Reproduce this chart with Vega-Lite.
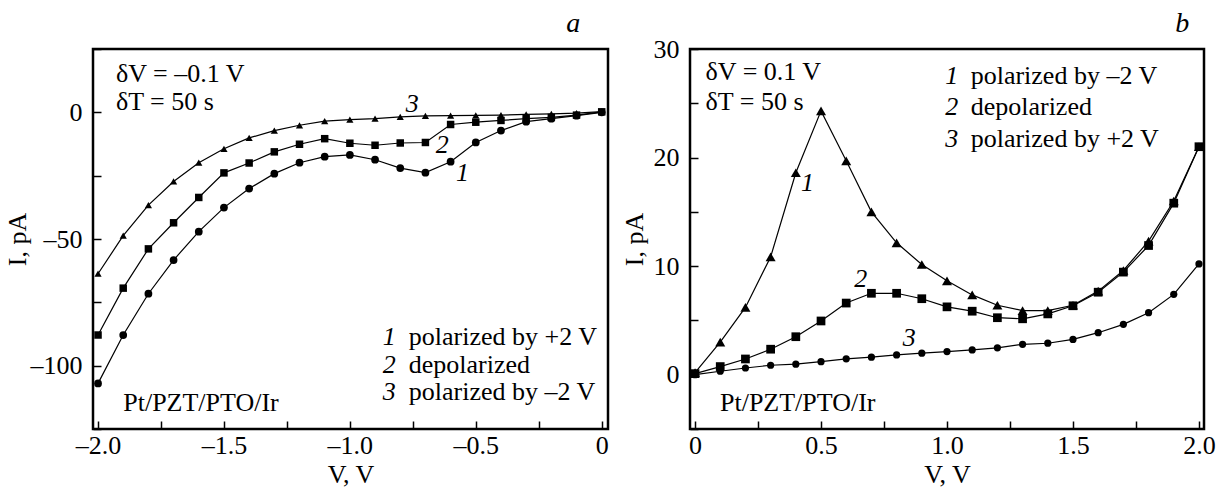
{
  "$schema": "https://vega.github.io/schema/vega-lite/v6.json",
  "padding": {"left": 2, "top": 8, "right": 5, "bottom": 0},
  "background": "white",
  "spacing": 9,
  "config": {
    "font": "Liberation Serif",
    "view": {"stroke": "black", "strokeWidth": 2.5},
    "axis": {
      "grid": false,
      "domain": false,
      "ticks": true,
      "tickColor": "black",
      "tickWidth": 1.5,
      "tickSize": 8,
      "offset": -8,
      "labelFont": "Liberation Serif",
      "labelFontSize": 26,
      "labelColor": "black",
      "labelOverlap": false,
      "labelFlush": false,
      "titleFont": "Liberation Serif",
      "titleFontSize": 26,
      "titleFontWeight": "normal",
      "titleColor": "black"
    },
    "axisX": {"labelPadding": 3, "titlePadding": 3},
    "axisY": {"labelPadding": 11, "titlePadding": 6},
    "title": {"font": "Liberation Serif", "fontSize": 28, "fontStyle": "italic", "fontWeight": "normal", "anchor": "end", "color": "black", "offset": -2},
    "text": {"font": "Liberation Serif", "fontSize": 26, "color": "black"}
  },
  "datasets": {
    "a": [
      {"V": -2.0, "I": -107, "curve": "1"}, {"V": -1.9, "I": -87.9, "curve": "1"}, {"V": -1.8, "I": -71.6, "curve": "1"}, {"V": -1.7, "I": -58.3, "curve": "1"}, {"V": -1.6, "I": -47.1, "curve": "1"}, {"V": -1.5, "I": -37.6, "curve": "1"}, {"V": -1.4, "I": -30.1, "curve": "1"}, {"V": -1.3, "I": -24.2, "curve": "1"}, {"V": -1.2, "I": -19.9, "curve": "1"}, {"V": -1.1, "I": -17.5, "curve": "1"}, {"V": -1.0, "I": -16.8, "curve": "1"}, {"V": -0.9, "I": -18.7, "curve": "1"}, {"V": -0.8, "I": -22.0, "curve": "1"}, {"V": -0.7, "I": -23.8, "curve": "1"}, {"V": -0.6, "I": -19.5, "curve": "1"}, {"V": -0.5, "I": -11.9, "curve": "1"}, {"V": -0.4, "I": -7.2, "curve": "1"}, {"V": -0.3, "I": -3.7, "curve": "1"}, {"V": -0.2, "I": -2.5, "curve": "1"}, {"V": -0.1, "I": -1.3, "curve": "1"}, {"V": 0.0, "I": 0.0, "curve": "1"},
      {"V": -2.0, "I": -87.9, "curve": "2"}, {"V": -1.9, "I": -69.4, "curve": "2"}, {"V": -1.8, "I": -53.9, "curve": "2"}, {"V": -1.7, "I": -43.6, "curve": "2"}, {"V": -1.6, "I": -33.6, "curve": "2"}, {"V": -1.5, "I": -23.9, "curve": "2"}, {"V": -1.4, "I": -20.0, "curve": "2"}, {"V": -1.3, "I": -15.6, "curve": "2"}, {"V": -1.2, "I": -12.6, "curve": "2"}, {"V": -1.1, "I": -10.4, "curve": "2"}, {"V": -1.0, "I": -12.2, "curve": "2"}, {"V": -0.9, "I": -13.0, "curve": "2"}, {"V": -0.8, "I": -12.1, "curve": "2"}, {"V": -0.7, "I": -11.9, "curve": "2"}, {"V": -0.6, "I": -4.8, "curve": "2"}, {"V": -0.5, "I": -3.9, "curve": "2"}, {"V": -0.4, "I": -3.2, "curve": "2"}, {"V": -0.3, "I": -2.5, "curve": "2"}, {"V": -0.2, "I": -2.0, "curve": "2"}, {"V": -0.1, "I": -1.1, "curve": "2"}, {"V": 0.0, "I": 0.2, "curve": "2"},
      {"V": -2.0, "I": -63.7, "curve": "3"}, {"V": -1.9, "I": -48.7, "curve": "3"}, {"V": -1.8, "I": -36.6, "curve": "3"}, {"V": -1.7, "I": -27.3, "curve": "3"}, {"V": -1.6, "I": -19.9, "curve": "3"}, {"V": -1.5, "I": -14.4, "curve": "3"}, {"V": -1.4, "I": -10.1, "curve": "3"}, {"V": -1.3, "I": -7.2, "curve": "3"}, {"V": -1.2, "I": -5.1, "curve": "3"}, {"V": -1.1, "I": -3.5, "curve": "3"}, {"V": -1.0, "I": -2.9, "curve": "3"}, {"V": -0.9, "I": -2.5, "curve": "3"}, {"V": -0.8, "I": -1.8, "curve": "3"}, {"V": -0.7, "I": -1.4, "curve": "3"}, {"V": -0.6, "I": -1.3, "curve": "3"}, {"V": -0.5, "I": -1.2, "curve": "3"}, {"V": -0.4, "I": -1.1, "curve": "3"}, {"V": -0.3, "I": -0.8, "curve": "3"}, {"V": -0.2, "I": -0.6, "curve": "3"}, {"V": -0.1, "I": -0.3, "curve": "3"}, {"V": 0.0, "I": 0.3, "curve": "3"}
    ],
    "b": [
      {"V": 0.0, "I": 0.2, "curve": "1"}, {"V": 0.1, "I": 3.0, "curve": "1"}, {"V": 0.2, "I": 6.2, "curve": "1"}, {"V": 0.3, "I": 10.85, "curve": "1"}, {"V": 0.4, "I": 18.6, "curve": "1"}, {"V": 0.5, "I": 24.3, "curve": "1"}, {"V": 0.6, "I": 19.7, "curve": "1"}, {"V": 0.7, "I": 15.0, "curve": "1"}, {"V": 0.8, "I": 12.15, "curve": "1"}, {"V": 0.9, "I": 10.15, "curve": "1"}, {"V": 1.0, "I": 8.65, "curve": "1"}, {"V": 1.1, "I": 7.35, "curve": "1"}, {"V": 1.2, "I": 6.4, "curve": "1"}, {"V": 1.3, "I": 5.9, "curve": "1"}, {"V": 1.4, "I": 5.9, "curve": "1"}, {"V": 1.5, "I": 6.4, "curve": "1"}, {"V": 1.6, "I": 7.7, "curve": "1"}, {"V": 1.7, "I": 9.6, "curve": "1"}, {"V": 1.8, "I": 12.3, "curve": "1"}, {"V": 1.9, "I": 16.0, "curve": "1"}, {"V": 2.0, "I": 21.0, "curve": "1"},
      {"V": 0.0, "I": 0.1, "curve": "2"}, {"V": 0.1, "I": 0.75, "curve": "2"}, {"V": 0.2, "I": 1.45, "curve": "2"}, {"V": 0.3, "I": 2.35, "curve": "2"}, {"V": 0.4, "I": 3.5, "curve": "2"}, {"V": 0.5, "I": 4.95, "curve": "2"}, {"V": 0.6, "I": 6.6, "curve": "2"}, {"V": 0.7, "I": 7.5, "curve": "2"}, {"V": 0.8, "I": 7.5, "curve": "2"}, {"V": 0.9, "I": 7.0, "curve": "2"}, {"V": 1.0, "I": 6.25, "curve": "2"}, {"V": 1.1, "I": 5.85, "curve": "2"}, {"V": 1.2, "I": 5.25, "curve": "2"}, {"V": 1.3, "I": 5.15, "curve": "2"}, {"V": 1.4, "I": 5.6, "curve": "2"}, {"V": 1.5, "I": 6.35, "curve": "2"}, {"V": 1.6, "I": 7.6, "curve": "2"}, {"V": 1.7, "I": 9.45, "curve": "2"}, {"V": 1.8, "I": 11.9, "curve": "2"}, {"V": 1.9, "I": 15.8, "curve": "2"}, {"V": 2.0, "I": 21.0, "curve": "2"},
      {"V": 0.0, "I": 0.0, "curve": "3"}, {"V": 0.1, "I": 0.32, "curve": "3"}, {"V": 0.2, "I": 0.62, "curve": "3"}, {"V": 0.3, "I": 0.87, "curve": "3"}, {"V": 0.4, "I": 0.97, "curve": "3"}, {"V": 0.5, "I": 1.2, "curve": "3"}, {"V": 0.6, "I": 1.46, "curve": "3"}, {"V": 0.7, "I": 1.62, "curve": "3"}, {"V": 0.8, "I": 1.82, "curve": "3"}, {"V": 0.9, "I": 1.98, "curve": "3"}, {"V": 1.0, "I": 2.13, "curve": "3"}, {"V": 1.1, "I": 2.28, "curve": "3"}, {"V": 1.2, "I": 2.48, "curve": "3"}, {"V": 1.3, "I": 2.8, "curve": "3"}, {"V": 1.4, "I": 2.9, "curve": "3"}, {"V": 1.5, "I": 3.25, "curve": "3"}, {"V": 1.6, "I": 3.87, "curve": "3"}, {"V": 1.7, "I": 4.64, "curve": "3"}, {"V": 1.8, "I": 5.71, "curve": "3"}, {"V": 1.9, "I": 7.4, "curve": "3"}, {"V": 2.0, "I": 10.2, "curve": "3"}
    ],
    "a_text": [
      {"V": -1.929, "I": 15.2, "label": "δV = –0.1 V"},
      {"V": -1.929, "I": 4.0, "label": "δT = 50 s"},
      {"V": -0.766, "I": -88.5, "label": "polarized by +2 V"},
      {"V": -0.766, "I": -99.7, "label": "depolarized"},
      {"V": -0.766, "I": -110.3, "label": "polarized by –2 V"},
      {"V": -1.9, "I": -114.9, "label": "Pt/PZT/PTO/Ir"}
    ],
    "a_num": [
      {"V": -0.844, "I": -88.5, "label": "1"},
      {"V": -0.844, "I": -99.7, "label": "2"},
      {"V": -0.844, "I": -110.3, "label": "3"},
      {"V": -0.752, "I": 3.3, "label": "3"},
      {"V": -0.633, "I": -12.8, "label": "2"},
      {"V": -0.553, "I": -24.0, "label": "1"}
    ],
    "b_text": [
      {"V": 0.042, "I": 27.85, "label": "δV = 0.1 V"},
      {"V": 0.042, "I": 25.1, "label": "δT = 50 s"},
      {"V": 1.094, "I": 27.5, "label": "polarized by –2 V"},
      {"V": 1.094, "I": 24.7, "label": "depolarized"},
      {"V": 1.094, "I": 21.7, "label": "polarized by +2 V"},
      {"V": 0.099, "I": -2.6, "label": "Pt/PZT/PTO/Ir"}
    ],
    "b_num": [
      {"V": 1.019, "I": 27.5, "label": "1"},
      {"V": 1.019, "I": 24.7, "label": "2"},
      {"V": 1.019, "I": 21.7, "label": "3"},
      {"V": 0.446, "I": 17.7, "label": "1"},
      {"V": 0.658, "I": 8.8, "label": "2"},
      {"V": 0.85, "I": 3.4, "label": "3"}
    ]
  },
  "resolve": {"scale": {"shape": "independent", "size": "independent", "x": "independent", "y": "independent"}},
  "hconcat": [
    {
      "title": {"text": "a", "dx": -28},
      "width": 515,
      "height": 380,
      "encoding": {
        "x": {"field": "V", "type": "quantitative", "title": "V, V",
          "scale": {"domain": [-2.02, 0.025], "nice": false, "zero": false},
          "axis": {"values": [-2, -1.75, -1.5, -1.25, -1, -0.75, -0.5, -0.25, 0],
            "labelExpr": "abs(datum.value*2 - round(datum.value*2)) > 0.01 ? '' : (datum.value == 0 ? '0' : (datum.value < 0 ? '–' : '') + format(abs(datum.value), '.1f'))"}},
        "y": {"field": "I", "type": "quantitative", "title": "I, pA",
          "scale": {"domain": [-125, 25], "nice": false, "zero": false},
          "axis": {"values": [-125, -100, -75, -50, -25, 0, 25], "titlePadding": 0,
            "labelExpr": "datum.value % 50 != 0 ? '' : (datum.value < 0 ? '–' : '') + format(abs(datum.value), 'd')"}}
      },
      "layer": [
        {"data": {"name": "a"}, "mark": {"type": "line", "color": "black", "strokeWidth": 1.2}, "encoding": {"detail": {"field": "curve"}}},
        {"data": {"name": "a"}, "mark": {"type": "point", "filled": true, "color": "black", "opacity": 1},
          "encoding": {
            "shape": {"field": "curve", "type": "nominal", "scale": {"domain": ["1", "2", "3"], "range": ["circle", "square", "triangle-up"]}, "legend": null},
            "size": {"field": "curve", "type": "ordinal", "scale": {"domain": ["1", "2", "3"], "range": [60, 52, 100]}, "legend": null}}},
        {"data": {"name": "a_text"}, "mark": {"type": "text", "align": "left", "baseline": "middle"}, "encoding": {"text": {"field": "label"}}},
        {"data": {"name": "a_num"}, "mark": {"type": "text", "align": "center", "baseline": "middle", "fontStyle": "italic"}, "encoding": {"text": {"field": "label"}}}
      ]
    },
    {
      "title": {"text": "b", "dx": -26},
      "width": 514,
      "height": 380,
      "encoding": {
        "x": {"field": "V", "type": "quantitative", "title": "V, V",
          "scale": {"domain": [-0.02, 2.02], "nice": false, "zero": false},
          "axis": {"values": [0, 0.25, 0.5, 0.75, 1, 1.25, 1.5, 1.75, 2],
            "labelExpr": "abs(datum.value*2 - round(datum.value*2)) > 0.01 ? '' : (datum.value == 0 ? '0' : format(datum.value, '.1f'))"}},
        "y": {"field": "I", "type": "quantitative", "title": "I, pA",
          "scale": {"domain": [-5, 30], "nice": false, "zero": false},
          "axis": {"values": [-5, 0, 5, 10, 15, 20, 25, 30],
            "labelExpr": "datum.value % 10 != 0 ? '' : format(datum.value, 'd')"}}
      },
      "layer": [
        {"data": {"name": "b"}, "mark": {"type": "line", "color": "black", "strokeWidth": 1.2}, "encoding": {"detail": {"field": "curve"}}},
        {"data": {"name": "b"}, "mark": {"type": "point", "filled": true, "color": "black", "opacity": 1},
          "encoding": {
            "shape": {"field": "curve", "type": "nominal", "scale": {"domain": ["1", "2", "3"], "range": ["triangle-up", "square", "circle"]}, "legend": null},
            "size": {"field": "curve", "type": "ordinal", "scale": {"domain": ["1", "2", "3"], "range": [100, 52, 60]}, "legend": null}}},
        {"data": {"name": "b_text"}, "mark": {"type": "text", "align": "left", "baseline": "middle"}, "encoding": {"text": {"field": "label"}}},
        {"data": {"name": "b_num"}, "mark": {"type": "text", "align": "center", "baseline": "middle", "fontStyle": "italic"}, "encoding": {"text": {"field": "label"}}}
      ]
    }
  ]
}
